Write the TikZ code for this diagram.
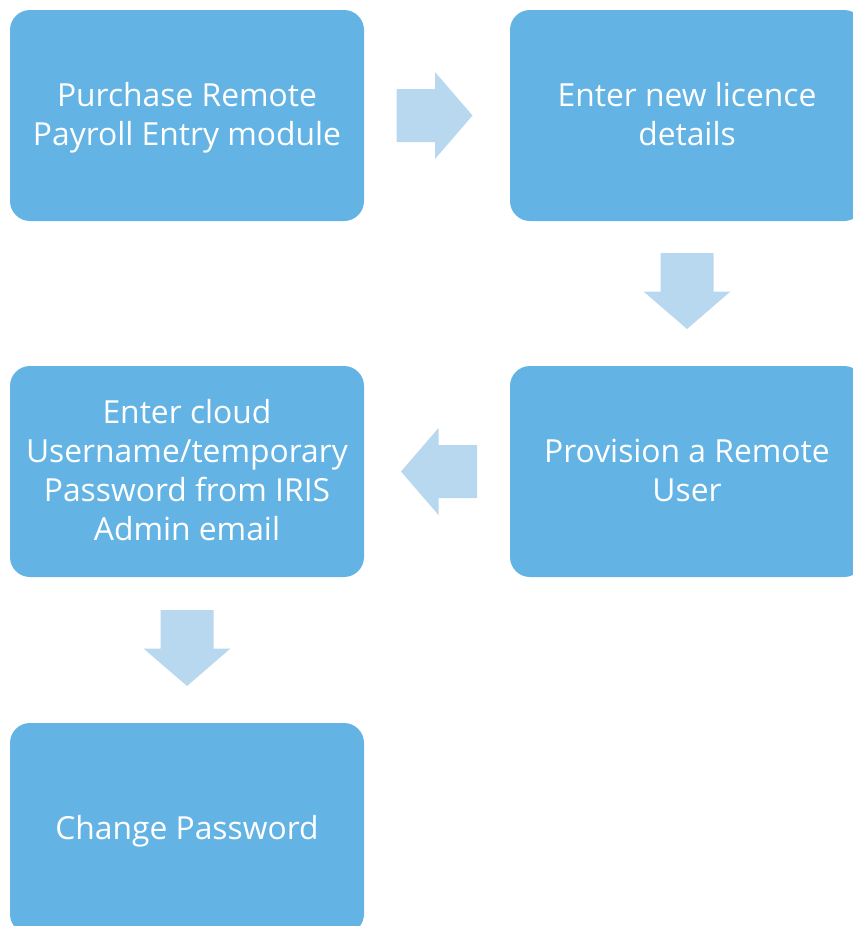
\documentclass[tikz,border=0pt]{standalone}
\usepackage{fontspec}
\setmainfont{Open Sans}
\usetikzlibrary{calc}
\definecolor{boxfill}{RGB}{99,180,228}
\definecolor{arrowfill}{RGB}{184,216,240}
\newcommand{\ls}{\rule[-8pt]{0pt}{37pt}}
\tikzset{
  stepbox/.style={fill=boxfill, draw=none, rounded corners=20pt,
    minimum width=354pt, minimum height=211pt, inner sep=0pt,
    text=white, align=center,
    font=\fontsize{31.8pt}{39pt}\selectfont},
  pics/barrow/.style={code={
    \fill[arrowfill] (-38pt,-26.5pt) -- (0.5pt,-26.5pt) -- (0.5pt,-43.5pt)
      -- (38pt,0pt) -- (0.5pt,43.5pt) -- (0.5pt,26.5pt) -- (-38pt,26.5pt) -- cycle;}}
}
\begin{document}
\begin{tikzpicture}[x=1pt,y=-1pt]
\useasboundingbox (0,0) rectangle (853,926);
\clip (0,0) rectangle (853,926);
\node[stepbox] (A) at (187,115.5) {\ls Purchase Remote\\\ls Payroll Entry module};
\node[stepbox] (B) at (687,115.5) {\ls Enter new licence\\\ls details};
\node[stepbox] (C) at (687,471.5) {\ls Provision a Remote\\\ls User};
\node[stepbox] (D) at (187,471.5) {\ls Enter cloud\\\ls Username/temporary\\\ls Password from IRIS\\\ls Admin email};
\node[stepbox] (E) at (187,828.5) {\ls Change Password};
\pic[xshift=-2.5pt] at ($(A.east)!0.5!(B.west)$) {barrow};
\pic[yshift=2.5pt, rotate=-90] at ($(B.south)!0.5!(C.north)$) {barrow};
\pic[xshift=2pt, rotate=180] at ($(C.west)!0.5!(D.east)$) {barrow};
\pic[yshift=2pt, rotate=-90] at ($(D.south)!0.5!(E.north)$) {barrow};
\end{tikzpicture}
\end{document}
